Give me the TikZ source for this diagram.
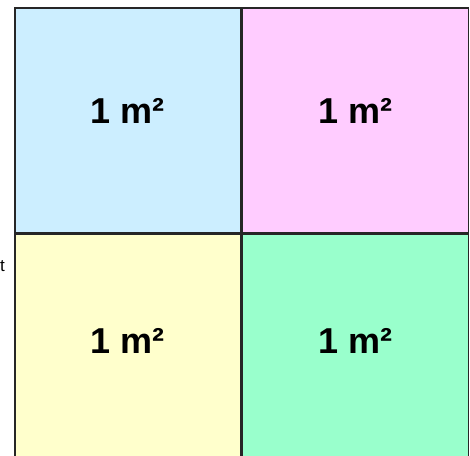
\documentclass[tikz,border=0pt]{standalone}
\usepackage{fontspec}
\setmainfont{Liberation Sans}
\usetikzlibrary{positioning,calc}

\definecolor{paleblue}{RGB}{204,238,255}
\definecolor{palepink}{RGB}{255,204,255}
\definecolor{paleyellow}{RGB}{255,255,204}
\definecolor{palegreen}{RGB}{153,255,204}

\begin{document}
\begin{tikzpicture}[
  x=1pt, y=1pt,
  cell/.style={draw=black!85, line width=1.6pt, minimum width=226pt, minimum height=225pt, inner sep=0pt, anchor=north west},
  area/.style={font=\fontsize{36}{40}\selectfont\bfseries, inner sep=0pt},
  side/.style={font=\fontsize{17}{20}\selectfont, inner sep=0pt}
]

\useasboundingbox (0,0) rectangle (470,455);

\node[cell, fill=paleblue] (nw) at (14,448) {};
\node[cell, fill=palepink, right=0pt of nw] (ne) {};
\node[cell, fill=paleyellow, below=0pt of nw] (sw) {};
\node[cell, fill=palegreen, below=0pt of ne] (se) {};

\node[area] (nwtext) at ($(nw.center)+(0,9)$) {1 m²};
\node[area] (netext) at ($(ne.center)+(0,9)$) {1 m²};
\node[area] (swtext) at ($(sw.center)+(0,6)$) {1 m²};
\node[area] (setext) at ($(se.center)+(0,6)$) {1 m²};

\node[side, anchor=base east] (cut) at (5,183) {t};

\end{tikzpicture}
\end{document}
